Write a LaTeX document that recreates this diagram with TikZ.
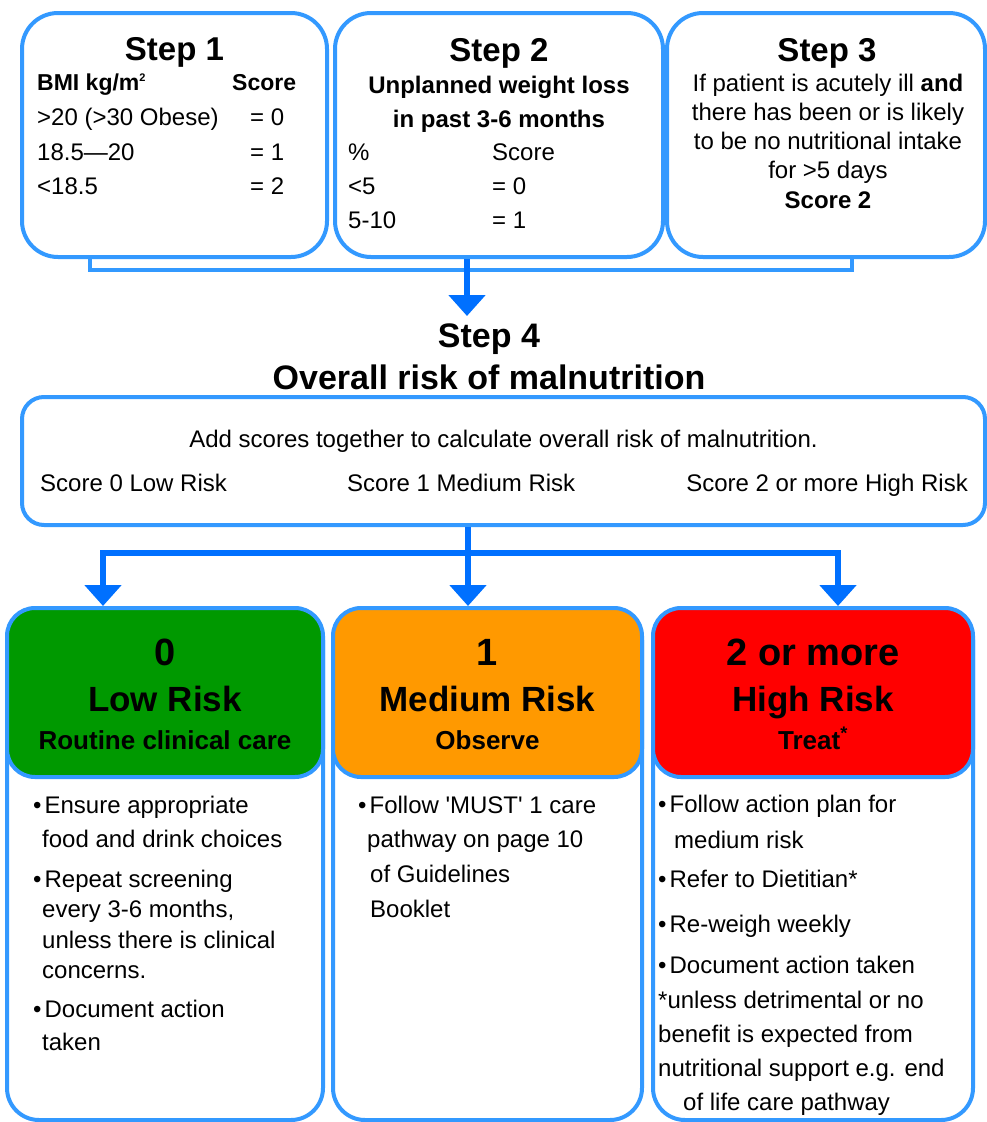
\documentclass[tikz,border=0pt]{standalone}
\usepackage{fontspec}
\setmainfont{Liberation Sans}
\usepackage{tikz}
\usetikzlibrary{arrows.meta}
\definecolor{boxblue}{RGB}{51,153,255}
\definecolor{arrowblue}{RGB}{0,112,255}
\definecolor{lowgreen}{RGB}{0,153,0}
\definecolor{mediumorange}{RGB}{255,153,0}
\definecolor{highred}{RGB}{255,0,0}

\begin{document}
\begin{tikzpicture}[x = 1pt, y = 1pt,
  stepbox/.style = {draw = boxblue, line width = 4pt, rounded corners = 36pt, inner sep = 0pt},
  riskbox/.style = {draw = boxblue, line width = 4pt, rounded corners = 32pt, inner sep = 0pt, minimum height = 512pt},
  headbox/.style = {draw = boxblue, line width = 4pt, rounded corners = 28pt, inner sep = 0pt, minimum height = 169pt, anchor = north},
  textbody/.style = {font = \fontsize{24}{34}\selectfont, inner sep = 0pt},
  texttitle/.style = {font = \fontsize{33}{40}\selectfont\bfseries, inner sep = 0pt, anchor = base},
  link/.style = {draw = boxblue, line width = 4pt},
  arrow/.style = {draw = arrowblue, line width = 6pt, -{Triangle[width = 36pt, length = 21pt]}}]
\useasboundingbox (0,0) rectangle (987,-1122);

% steps 1 to 3
\node [stepbox, minimum width = 305pt, minimum height = 244pt](step1) at (174.5,-135){};
\node [stepbox, minimum width = 328pt, minimum height = 244pt](step2) at (499,-135){};
\node [stepbox, minimum width = 318pt, minimum height = 244pt](step3) at (826,-135){};

\node [texttitle](titlestep1) at (174.5,-60){Step 1};
\node [textbody, anchor = north west](tablestep1) at (37,-66.4){\fontsize{24}{34.7}\selectfont
  \begin{tabular}{@{}p{213pt}@{}l@{}}
  {\fontsize{23}{34.7}\selectfont\bfseries BMI kg/m\textsuperscript{\fontsize{11}{11}\selectfont 2}} & \hspace*{-18pt}{\fontsize{23}{34.7}\selectfont\bfseries Score}\\
  >20 (>30 Obese) & = 0\\
  18.5—20 & = 1\\
  <18.5 & = 2
  \end{tabular}};

\node [texttitle](titlestep2) at (499,-61){Step 2};
\node [textbody, anchor = north, align = center, font = \fontsize{24}{34}\selectfont\bfseries](lossstep2) at (499,-75.5){Unplanned weight loss\\in past 3-6 months};
\node [textbody, anchor = north west](tablestep2) at (348,-136.2){
  \begin{tabular}{@{}p{144pt}@{}l@{}}
  \% & Score\\
  <5 & = 0\\
  5-10 & = 1
  \end{tabular}};

\node [texttitle](titlestep3) at (827,-61){Step 3};
\node [textbody, anchor = north, align = center, font = \fontsize{24}{29.25}\selectfont](textstep3) at (828,-73.5){If patient is acutely ill \textbf{and}\\there has been or is likely\\to be no nutritional intake\\for >5 days\\\textbf{Score 2}};

\coordinate (join13) at (467,-270);
\coordinate (in4) at (467,-316);
\draw [link] ([xshift = -84.5pt]step1.south) |- (join13) -| ([xshift = 26pt]step3.south);
\draw [arrow] ([xshift = -32pt]step2.south) -- (in4);

% step 4
\node [texttitle, font = \fontsize{34}{40}\selectfont\bfseries](titlestep4) at (489,-347){Step 4};
\node [texttitle, font = \fontsize{34}{40}\selectfont\bfseries](riskstep4) at (489,-389){Overall risk of malnutrition};
\node [stepbox, rounded corners = 22pt, minimum width = 963pt, minimum height = 128pt](step4) at (503.5,-461){};
\node [textbody, anchor = base](addscores) at (503.5,-447){Add scores together to calculate overall risk of malnutrition.};
\node [textbody, anchor = base west](scorelow) at (40,-491){Score 0 Low Risk};
\node [textbody, anchor = base west](scoremedium) at (347,-491){Score 1 Medium Risk};
\node [textbody, anchor = base east](scorehigh) at (968,-491){Score 2 or more High Risk};

% risk boxes
\node [riskbox, minimum width = 316pt](boxlow) at (165,-864){};
\node [riskbox, minimum width = 309pt](boxmedium) at (487.5,-864){};
\node [riskbox, minimum width = 320pt](boxhigh) at (813,-864){};
\node [headbox, fill = lowgreen, minimum width = 316pt](headlow) at (boxlow.north){};
\node [headbox, fill = mediumorange, minimum width = 309pt](headmedium) at (boxmedium.north){};
\node [headbox, fill = highred, minimum width = 320pt](headhigh) at (boxhigh.north){};

\coordinate (split) at (468,-553);
\draw [arrow] ([xshift = -35.5pt]step4.south) -- (boxmedium.north -| split);
\draw [arrow] (split) -| ([xshift = -62pt]boxlow.north);
\draw [arrow] (split) -| ([xshift = 25pt]boxhigh.north);

\node [texttitle, font = \fontsize{38}{44}\selectfont\bfseries](numlow) at (165,-665){0};
\node [texttitle, font = \fontsize{35}{40}\selectfont\bfseries](namelow) at (165,-711){Low Risk};
\node [texttitle, font = \fontsize{26}{30}\selectfont\bfseries](carelow) at (165,-749){Routine clinical care};
\node [texttitle, font = \fontsize{38}{44}\selectfont\bfseries](nummedium) at (487.5,-665){1};
\node [texttitle, font = \fontsize{35}{40}\selectfont\bfseries](namemedium) at (487.5,-711){Medium Risk};
\node [texttitle, font = \fontsize{26}{30}\selectfont\bfseries](caremedium) at (487.5,-749){Observe};
\node [texttitle, font = \fontsize{38}{44}\selectfont\bfseries](numhigh) at (813,-665){2 or more};
\node [texttitle, font = \fontsize{35}{40}\selectfont\bfseries](namehigh) at (813,-711){High Risk};
\node [texttitle, font = \fontsize{26}{30}\selectfont\bfseries](carehigh) at (813,-749){Treat\textsuperscript{*}};

% actions
\node [textbody, anchor = north west, align = left](itemlow1) at (33,-795.5){\textbullet\hspace{3pt}Ensure appropriate\\\hspace*{9pt}food and drink choices};
\node [textbody, anchor = north west, align = left, font = \fontsize{24}{30.5}\selectfont](itemlow2) at (33,-869.5){\textbullet\hspace{3pt}Repeat screening\\\hspace*{9pt}every 3-6 months,\\\hspace*{9pt}unless there is clinical\\\hspace*{9pt}concerns.};
\node [textbody, anchor = north west, align = left, font = \fontsize{24}{33}\selectfont](itemlow3) at (33,-999.5){\textbullet\hspace{3pt}Document action\\\hspace*{9pt}taken};

\node [textbody, anchor = north west, align = left, font = \fontsize{24}{34.7}\selectfont](itemmedium1) at (358,-795.5){\textbullet\hspace{3pt}Follow \textquotesingle MUST\textquotesingle{} 1 care\\\hspace*{9pt}pathway on page 10\\\hspace*{12pt}of Guidelines\\\hspace*{12pt}Booklet};

\node [textbody, anchor = north west, align = left, font = \fontsize{24}{36}\selectfont](itemhigh1) at (658,-794.5){\textbullet\hspace{3pt}Follow action plan for\\\hspace*{16pt}medium risk};
\node [textbody, anchor = north west](itemhigh2) at (658,-869.5){\textbullet\hspace{3pt}Refer to Dietitian*};
\node [textbody, anchor = north west](itemhigh3) at (658,-914.5){\textbullet\hspace{3pt}Re-weigh weekly};
\node [textbody, anchor = north west](itemhigh4) at (658,-955.5){\textbullet\hspace{3pt}Document action taken};
\node [textbody, anchor = north west, align = left](notehigh) at (658,-990.5){*unless detrimental or no\\benefit is expected from\\nutritional support e.g. end\\\hspace*{25pt}of life care pathway};

\end{tikzpicture}
\end{document}
